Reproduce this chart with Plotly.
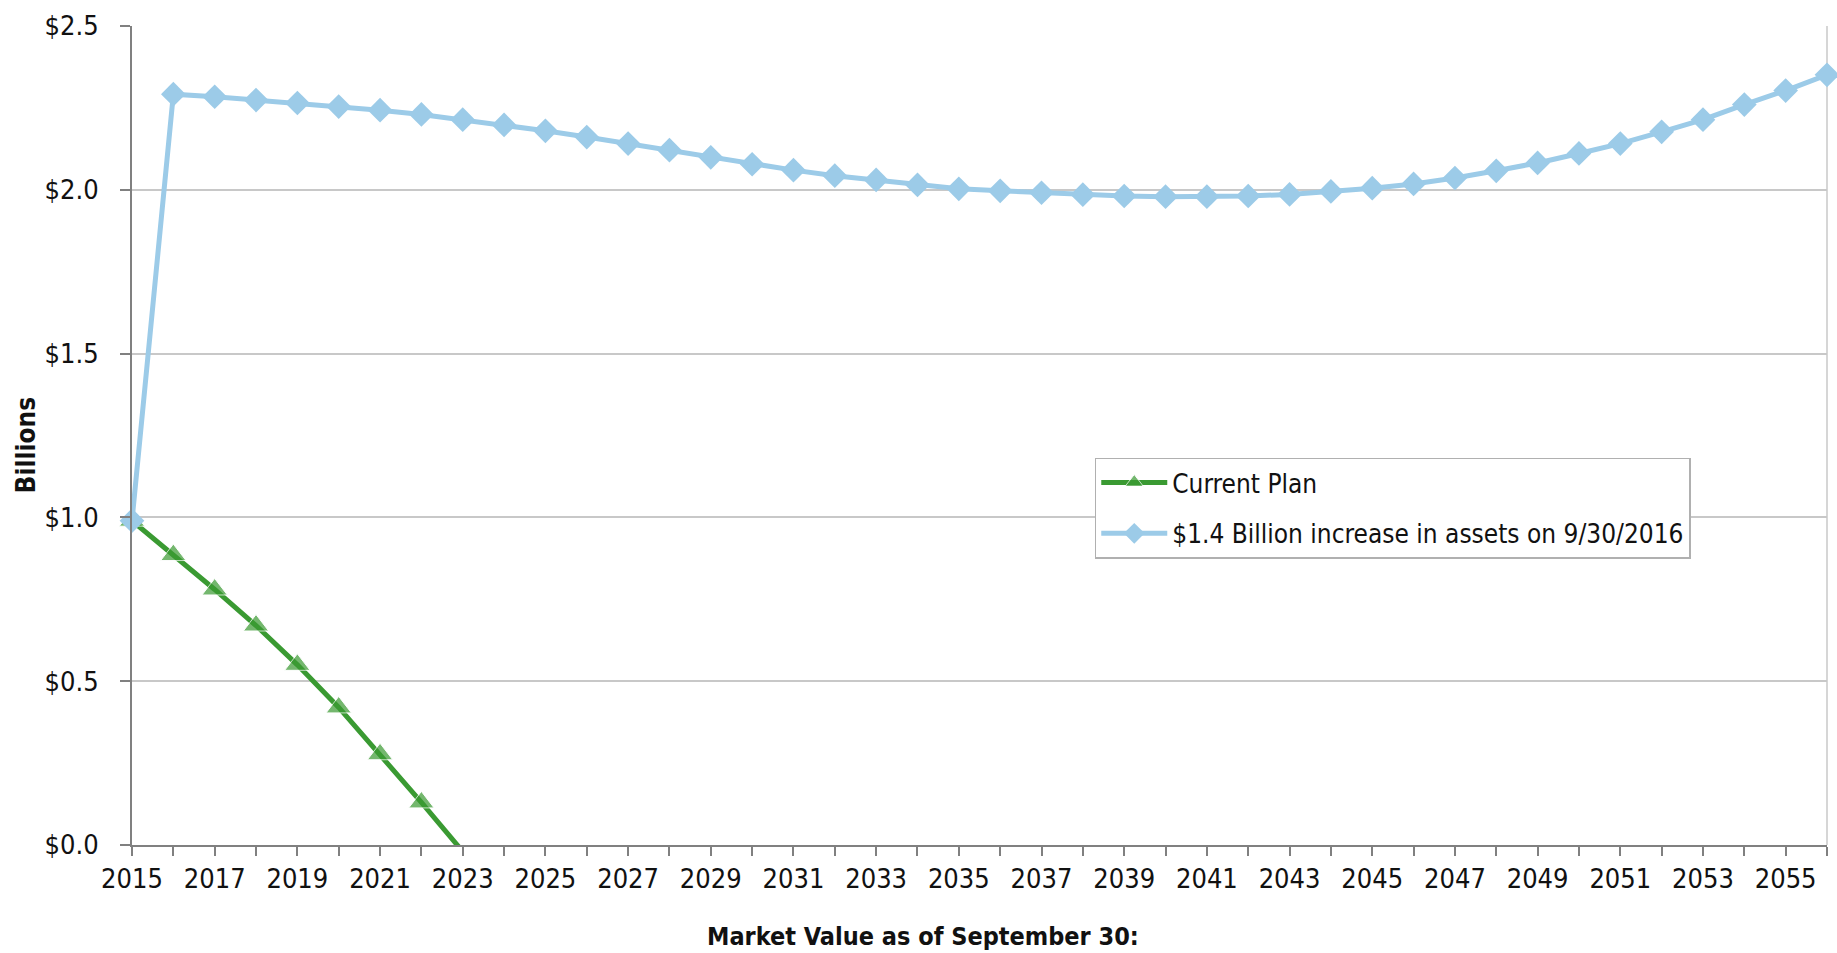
import plotly.graph_objects as go

years = list(range(2015, 2057))

current_years = [2015, 2016, 2017, 2018, 2019, 2020, 2021, 2022, 2023]
current_plan = [0.99, 0.885, 0.78, 0.67, 0.55, 0.42, 0.277, 0.13, -0.02]

increase_values = [
    0.99,
    2.292, 2.284, 2.274, 2.265, 2.254, 2.243, 2.23,
    2.214, 2.198, 2.18, 2.161, 2.141, 2.121, 2.099, 2.078,
    2.06, 2.043, 2.03, 2.015, 2.003, 1.997, 1.991, 1.985, 1.981, 1.979,
    1.979, 1.981, 1.986, 1.995, 2.005, 2.018, 2.036, 2.058, 2.082, 2.111,
    2.141, 2.177, 2.214, 2.26, 2.303, 2.351,
]

names = ["Current Plan", "$1.4 Billion increase in assets on 9/30/2016"]
x_title = "Market Value as of September 30:"
y_title = "Billions"

FONT = "Liberation Sans Narrow, Arial Narrow, DejaVu Sans Condensed, sans-serif"
GREEN = "#3a9a32"
BLUE = "#9ccbe8"
TXT = "#111111"

fig = go.Figure()
fig.add_trace(go.Scatter(
    x=current_years, y=current_plan, name=names[0], mode="lines+markers",
    line=dict(color=GREEN, width=5),
    marker=dict(symbol="triangle-up", color=GREEN,
                size=[22 if v >= 0 else 0 for v in current_plan]),
    legendgroup="a", cliponaxis=False,
))
fig.add_trace(go.Scatter(
    x=years, y=increase_values, name=names[1], mode="lines+markers",
    line=dict(color=BLUE, width=5),
    marker=dict(symbol="diamond", color=BLUE, size=19),
    legendgroup="b", cliponaxis=False,
))

fig.update_layout(
    width=1837, height=953,
    margin=dict(l=132, r=10, t=21, b=108),
    paper_bgcolor="white", plot_bgcolor="white",
    font=dict(family=FONT, size=27, color=TXT),
    showlegend=True,
    legend=dict(
        x=0.568, y=0.473, xanchor="left", yanchor="top",
        bordercolor="#b0b0b0", borderwidth=1.5, bgcolor="white",
        font=dict(family=FONT, size=26, color=TXT),
        tracegroupgap=14, traceorder="grouped", itemwidth=66,
    ),
    xaxis=dict(
        range=[2015, 2056], tick0=2015, dtick=2, tickmode="linear",
        ticks="outside", ticklen=9, tickwidth=1.5, tickcolor="#808080",
        showline=True, linecolor="#808080", linewidth=2,
        showgrid=False, zeroline=False,
        minor=dict(dtick=1, tick0=2015, ticks="outside", ticklen=9,
                   tickwidth=1.5, tickcolor="#808080", showgrid=False),
        tickfont=dict(size=27), fixedrange=True,
    ),
    yaxis=dict(
        range=[0, 2.5], dtick=0.5, tickprefix="$", tickformat=".1f",
        ticks="outside", ticklen=10, tickwidth=1.5, tickcolor="#808080",
        showline=True, linecolor="#808080", linewidth=2,
        showgrid=True, gridcolor="#c8c8c8", gridwidth=1.5,
        zeroline=False, tickfont=dict(size=27), fixedrange=True,
        ticklabelstandoff=16,
    ),
    shapes=[dict(type="line", xref="x domain", yref="y domain",
                 x0=1, x1=1, y0=0, y1=1, layer="below",
                 line=dict(color="#c8c8c8", width=1.5))],
    annotations=[
        dict(text="<b>" + x_title + "</b>", xref="paper", yref="paper",
             x=(923 - 132) / (1827 - 132), y=-(937 - 845) / 824,
             xanchor="center", yanchor="middle", showarrow=False,
             font=dict(family=FONT, size=25, color=TXT)),
        dict(text="<b>" + y_title + "</b>", xref="paper", yref="paper",
             x=-(132 - 26) / (1827 - 132), y=(845 - 443) / 824,
             xanchor="center", yanchor="middle", textangle=-90, showarrow=False,
             font=dict(family=FONT, size=26, color=TXT)),
    ],
)

fig.write_html("out.html")
